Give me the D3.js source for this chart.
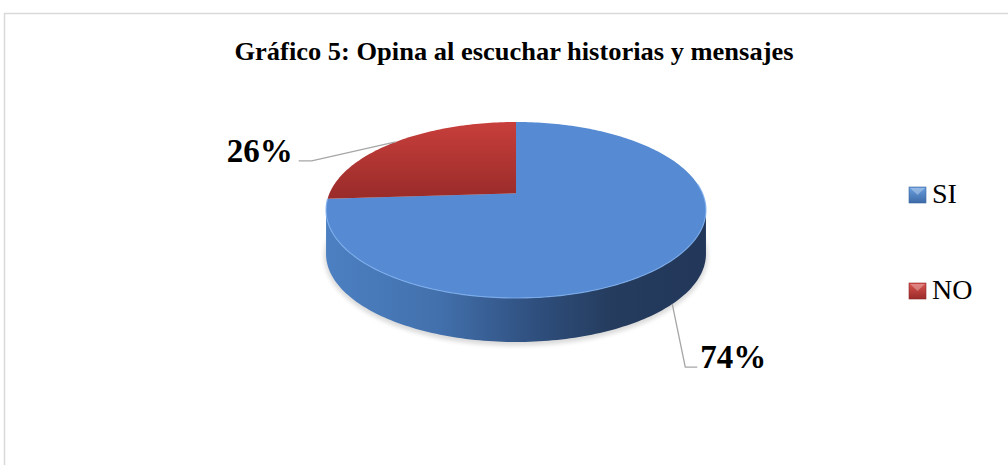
<!DOCTYPE html>
<html>
<head>
<meta charset="utf-8">
<script src="https://cdn.jsdelivr.net/npm/d3@7"></script>
<style>
	body { margin: 0; background: #fff; }
	svg { display: block; }
	text { font-family: "Liberation Serif", "Times New Roman", serif; }
</style>
</head>
<body>
<svg id="svg_elem"></svg>
<script>
//define data
const categories = ['SI', 'NO'];
const values = [74, 26];
const labels = ['74%', '26%'];
const title = 'Gráfico 5: Opina al escuchar historias y mensajes';

//define constants
const svgWidth = 1008;
const svgHeight = 465;
const cx = 516;
const cy = 210;
const rx = 186.5;
const ry = 88;
const depth = 44;
const persp = 0.19;

const svg = d3.select('#svg_elem')
	.attr('width', svgWidth)
	.attr('height', svgHeight);

//gradients
const defs = svg.append('defs');
function addGrad(id, stops, attrs) {
	const g = defs.append('linearGradient').attr('id', id);
	Object.keys(attrs).forEach(k => g.attr(k, attrs[k]));
	stops.forEach(s => g.append('stop').attr('offset', s[0]).attr('stop-color', s[1]));
}
addGrad('sideBlue', [[0, '#4c80c2'], [0.3, '#4270ac'], [0.55, '#2f4f7e'], [0.75, '#253c5e'], [1, '#22375a']],
	{gradientUnits: 'userSpaceOnUse', x1: cx - 190, x2: cx + 190, y1: 0, y2: 0});
addGrad('topRed', [[0, '#c83f3b'], [1, '#982b29']],
	{gradientUnits: 'userSpaceOnUse', x1: 0, x2: 0, y1: cy - ry, y2: cy - 10});
addGrad('sideRed', [[0, '#9a2b29'], [1, '#7a2120']], {x1: 0, x2: 1, y1: 0, y2: 0});
addGrad('legBlue', [[0, '#6a9fe0'], [1, '#3d6aa6']], {x1: 0, x2: 0, y1: 0, y2: 1});
addGrad('legRed', [[0, '#d9534f'], [1, '#9a2b29']], {x1: 0, x2: 0, y1: 0, y2: 1});
const shadow = defs.append('filter').attr('id', 'shadow')
	.attr('x', '-10%').attr('y', '-10%').attr('width', '120%').attr('height', '130%');
shadow.append('feGaussianBlur').attr('stdDeviation', 2);

const topFill = ['#568bd3', 'url(#topRed)'];
const sideFill = ['url(#sideBlue)', 'url(#sideRed)'];
const legFill = ['url(#legBlue)', 'url(#legRed)'];

//frame
svg.append('rect')
	.attr('x', 4.5).attr('y', 13.5)
	.attr('width', 1010).attr('height', 470)
	.attr('fill', 'none')
	.attr('stroke', '#d9d9d9')
	.attr('stroke-width', 1.5);

//title
svg.append('text')
	.attr('x', 514).attr('y', 60)
	.attr('text-anchor', 'middle')
	.attr('font-weight', 'bold')
	.attr('font-size', '26px')
	.attr('textLength', 559)
	.attr('lengthAdjust', 'spacingAndGlyphs')
	.text(title);

//project angle (clockwise from top) onto the tilted disc, slight perspective
function proj(a, r, dz) {
	const sx = r * Math.sin(a);
	const t = -r * Math.cos(a);
	const w = 1 - persp * t;
	return [cx + rx * sx / w, cy + ry * (t - persp) / w + dz];
}

function arcPoints(a0, a1, dz) {
	const n = Math.max(2, Math.ceil(Math.abs(a1 - a0) / 0.02));
	return d3.range(n + 1).map(i => proj(a0 + (a1 - a0) * i / n, 1, dz));
}

const pie = d3.pie().sort(null).value(d => d);
const arcs = pie(values);

const line = d3.line();

//visible side range (silhouette tangent points)
const sideStart = Math.acos(-persp);
const sideEnd = 2 * Math.PI - sideStart;

const chart = svg.append('g');
chart.append('ellipse')
	.attr('cx', cx).attr('cy', cy + depth + 2)
	.attr('rx', 192).attr('ry', ry + 2)
	.attr('fill', '#000').attr('opacity', 0.14)
	.attr('filter', 'url(#shadow)');

//side faces
arcs.forEach((d, i) => {
	const a0 = Math.max(d.startAngle, sideStart);
	const a1 = Math.min(d.endAngle, sideEnd);
	if (a1 <= a0) return;
	const topEdge = arcPoints(a0, a1, 0);
	const botEdge = arcPoints(a1, a0, depth);
	chart.append('path')
		.attr('d', line(topEdge.concat(botEdge)) + 'Z')
		.attr('fill', sideFill[i]);
});

//top faces
arcs.forEach((d, i) => {
	const pts = [proj(0, 0, 0)].concat(arcPoints(d.startAngle, d.endAngle, 0));
	chart.append('path')
		.attr('d', line(pts) + 'Z')
		.attr('fill', topFill[i]);
});

//rim highlight on front edge
chart.append('path')
	.attr('d', line(arcPoints(sideStart - 0.3, arcs[0].endAngle, 0)))
	.attr('fill', 'none')
	.attr('stroke', '#7fb0ef')
	.attr('stroke-width', 1.2)
	.attr('opacity', 0.8);

//labels with leader lines
arcs.forEach((d, i) => {
	const mid = (d.startAngle + d.endAngle) / 2;
	const front = Math.cos(mid) < 0;
	const anchor = proj(mid, 1, front ? depth : 0);
	const right = Math.sin(mid) > 0;
	const elbow = right ? [anchor[0] + 13, anchor[1] + 63] : [anchor[0] - 84, anchor[1] + 19];
	const end = [elbow[0] + (right ? 12 : -13), elbow[1]];
	svg.append('path')
		.attr('d', line([anchor, elbow, end]))
		.attr('fill', 'none')
		.attr('stroke', '#a6a6a6')
		.attr('stroke-width', 1.3);
	svg.append('text')
		.attr('x', end[0] + (right ? 3 : -6))
		.attr('y', end[1] + 1)
		.attr('text-anchor', right ? 'start' : 'end')
		.attr('font-weight', 'bold')
		.attr('font-size', '33px')
		.text(labels[i]);
});

//legend
const legend = svg.append('g').selectAll('g')
	.data(categories)
	.enter()
	.append('g')
		.attr('transform', (d, i) => `translate(909, ${187 + i * 96})`);
legend.append('rect')
	.attr('width', 17).attr('height', 16)
	.attr('fill', (d, i) => legFill[i])
	.attr('stroke', (d, i) => i === 0 ? '#3a66a0' : '#8e2725')
	.attr('stroke-width', 0.6);
legend.append('path')
	.attr('d', 'M1,1 L16,1 L8.5,8 Z')
	.attr('fill', '#fff')
	.attr('opacity', 0.3);
legend.append('text')
	.attr('x', 23).attr('y', 16)
	.attr('font-size', '28px')
	.text(d => d);
</script>
</body>
</html>
